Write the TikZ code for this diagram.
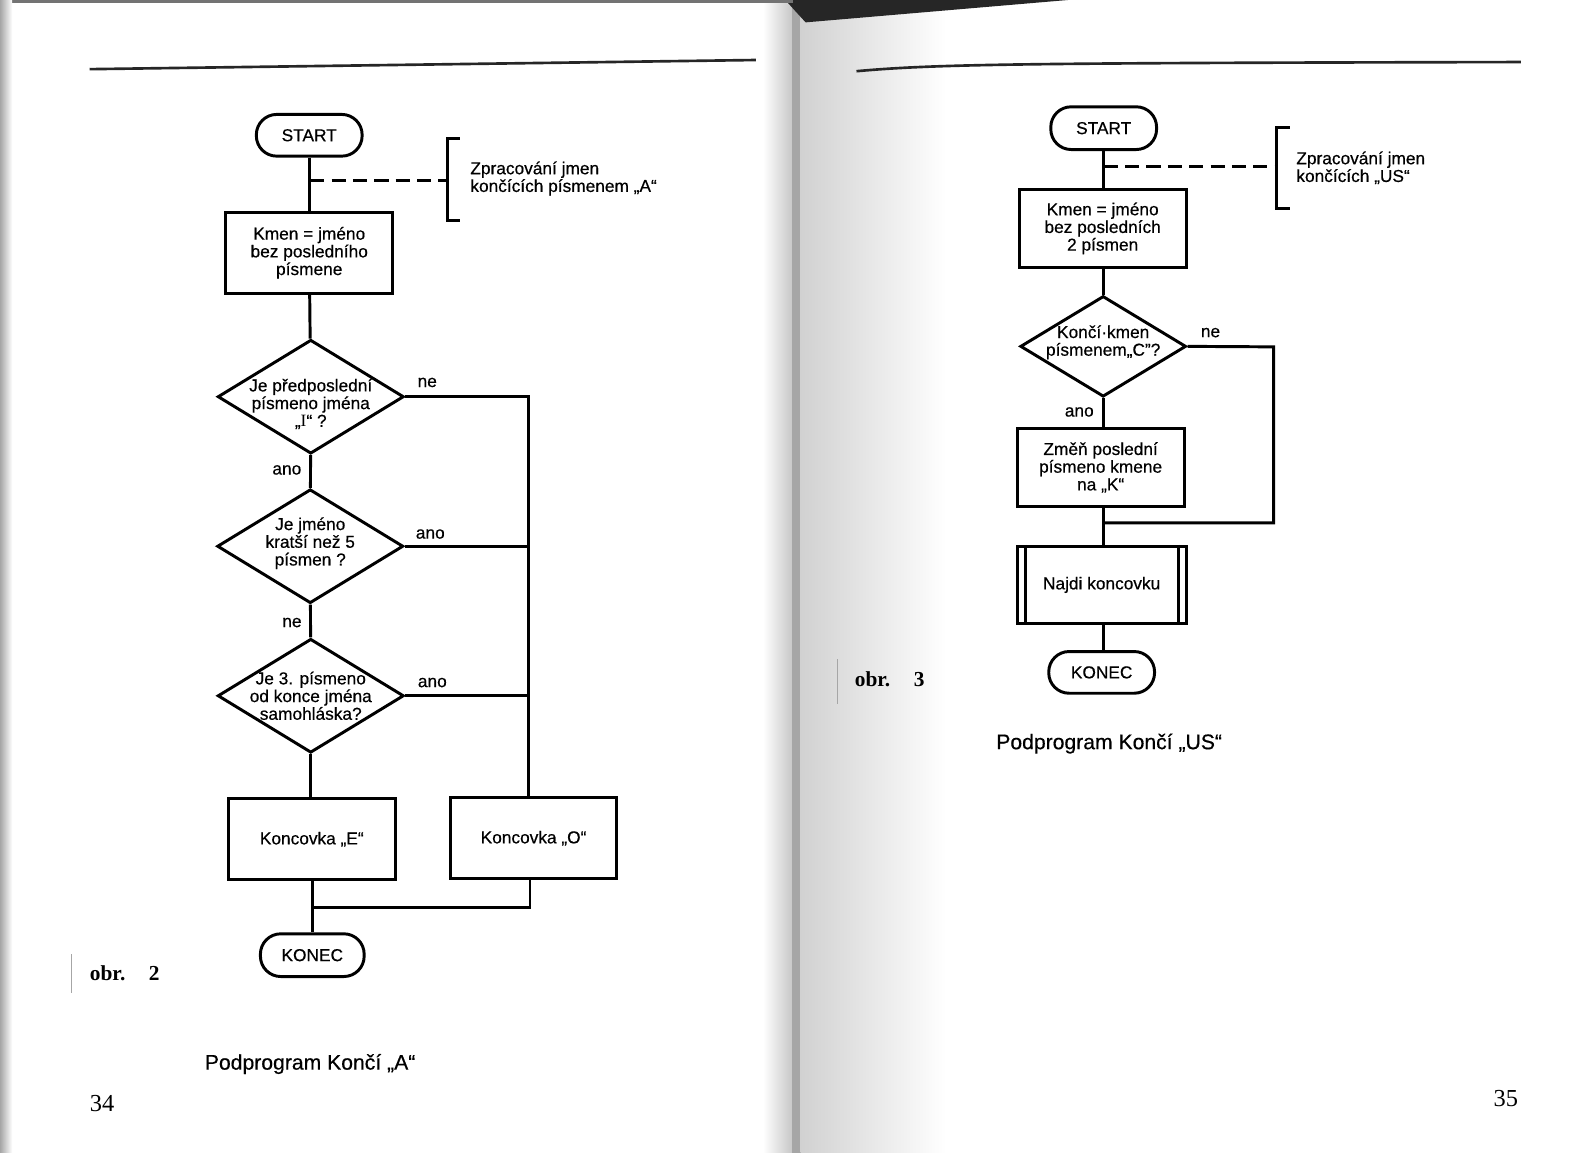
\documentclass[tikz,border=0pt]{standalone}
\usepackage{fontspec}
\setmainfont{Liberation Sans}[FakeBold=0.45]
\newfontfamily\serifbk{Liberation Serif}
\usetikzlibrary{shapes.geometric}
\begin{document}
\begin{tikzpicture}[x=0.5pt,y=-0.5pt,
  every node/.style={font=\fontsize{8.5}{8.7}\selectfont, inner sep=0pt, align=center},
  ln/.style={line width=1.45pt},
  dsh/.style={line width=1.45pt, dash pattern=on 7pt off 3.5pt},
  term/.style={draw, line width=1.45pt, rounded corners=10pt, minimum width=52pt, minimum height=20.5pt},
  proc/.style={draw, line width=1.45pt, minimum width=82pt, minimum height=40pt},
  dia/.style={draw, diamond, line width=1.45pt, minimum width=91.5pt, minimum height=56pt},
  lbl/.style={font=\fontsize{8.5}{8.7}\selectfont},
  note/.style={align=left, anchor=west},
  capt/.style={font=\fontsize{10.4}{12}\selectfont, anchor=west},
  fig/.style={font=\serifbk\bfseries\fontsize{10.5}{12}\selectfont, anchor=west},
  pnum/.style={font=\serifbk\fontsize{12}{14}\selectfont, anchor=west}
]
\useasboundingbox (0,0) rectangle (1568,1133);
% ---- page background / book edges
\fill[white] (0,0) rectangle (1568,1133);
\shade[left color=white, right color=black!22] (750,0) rectangle (779,1133);
\fill[black!35] (779,0) rectangle (787,1133);
\shade[left color=black!18, right color=white] (787,0) rectangle (930,1133);
\fill[black!85] (772,0) -- (1050,0) -- (792,22) -- (781,10) -- cycle;
\fill[black!55] (0,0) rectangle (780,3);
\shade[left color=black!35, right color=white] (0,0) rectangle (12,1133);
% margin marks
\draw[black!35, line width=0.6pt] (70,938) -- (70,976);
\draw[black!35, line width=0.6pt] (823,648) -- (823,692);
% top rules
\draw[line width=1.3pt, black!85] (88,68) -- (743,59);
\draw[line width=1.3pt, black!85] (842,70) .. controls (920,63) and (1000,62) .. (1495,61);

% ================= LEFT FLOWCHART =================
\node[term] (s1) at (304,133) {START};
\node[proc] (b1) at (304,248.5) {Kmen = jméno\\bez posledního\\písmene};
\node[dia] (d1) at (305.5,390) {};
\node (t1) at (305.5,397) {Je předposlední\\písmeno jména\\„{\serifbk I}“ ?};
\node[dia] (d2) at (305,537) {};
\node (t2) at (305,534) {Je jméno\\kratší než 5\\písmen ?};
\node[dia] (d3) at (305.5,684) {};
\node (t3) at (305.5,684) {Je 3. písmeno\\od konce jména\\samohláska?};
\node[proc] (bE) at (306.5,825) {Koncovka „E“};
\node[proc, minimum width=81.5pt] (bO) at (524.5,824) {Koncovka „O“};
\node[term, minimum width=51pt, minimum height=21pt] (k1) at (307,939) {KONEC};

\draw[ln] (s1) -- (b1);
\draw[ln] (b1) -- (d1);
\draw[ln] (d1) -- (d2);
\draw[ln] (d2) -- (d3);
\draw[ln] (d3.south) -- (d3.south |- bE.north);
\coordinate (r1) at (520,390);
\coordinate (m1) at (521,892);
\draw[ln] (d1.east) -- (r1) -- (r1 |- bO.north);
\draw[ln] (d2.east) -- (r1 |- d2.east);
\draw[ln] (d3.east) -- (r1 |- d3.east);
\draw[ln] (bE.south -| k1) -- (k1);
\draw[ln] (m1 |- bO.south) -- (m1) -- (m1 -| k1);

\node[lbl] (l1) at (420,376) {ne};
\node[lbl] (l2) at (282,462) {ano};
\node[lbl] (l3) at (423,525) {ano};
\node[lbl] (l4) at (287,612) {ne};
\node[lbl] (l5) at (425,671) {ano};

% annotation
\coordinate (a1) at (305,177);
\coordinate (a2) at (440,177);
\draw[dsh] (a1) -- (a2);
\draw[ln] (452,136) -- (440,136) -- (440,217) -- (452,217);
\node[note] (n1) at (462,175.5) {Zpracování jmen\\končících písmenem „A“};

\node[fig] (f2) at (88,957) {obr.\hspace{1.1em}2};
\node[capt] (c2) at (201,1046) {Podprogram Končí „A“};
\node[pnum] (p34) at (88,1085) {34};

% ================= RIGHT FLOWCHART =================
\node[term, minimum height=21pt] (s2) at (1085,126) {START};
\node[proc, minimum height=38.5pt] (b2) at (1084,224.5) {Kmen = jméno\\bez posledních\\2 písmen};
\node[dia, minimum width=81.5pt, minimum height=49.5pt] (d4) at (1084.5,340.5) {};
\node (t4) at (1084.5,336.5) {Končí·kmen\\písmenem„C"?};
\node[proc, minimum height=38.5pt] (b3) at (1082,459.5) {Změň poslední\\písmeno kmene\\na „K“};
\node[proc, minimum width=83pt, minimum height=38pt] (b4) at (1083,575) {Najdi koncovku};
\draw[ln] ([xshift=5pt]b4.north west) -- ([xshift=5pt]b4.south west);
\draw[ln] ([xshift=-4.5pt]b4.north east) -- ([xshift=-4.5pt]b4.south east);
\node[term, minimum height=20.5pt] (k2) at (1083,661) {KONEC};

\draw[ln] (s2) -- (s2 |- b2.north);
\draw[ln] (b2.south -| d4) -- (d4);
\draw[ln] (d4.south) -- (d4.south |- b3.north);
\coordinate (r2) at (1252,341);
\coordinate (m2) at (1252,514);
\draw[ln] (d4.east) -- (r2) -- (m2) -- (m2 -| d4);
\draw[ln] (b3.south -| d4) -- (b4.north -| d4);
\draw[ln] (b4.south -| d4) -- (k2.north -| d4);

\node[lbl] (l6) at (1190,327) {ne};
\node[lbl] (l7) at (1061,405) {ano};

\coordinate (a3) at (1085,164);
\coordinate (a4) at (1255,164);
\draw[dsh] (a3) -- (a4);
\draw[ln] (1268,125) -- (1255,125) -- (1255,205) -- (1268,205);
\node[note] (n2) at (1274,165) {Zpracování jmen\\končících „US“};

\node[fig] (f3) at (840,668) {obr.\hspace{1.1em}3};
\node[capt] (c3) at (979,731) {Podprogram Končí „US“};
\node[pnum] (p35) at (1468,1080) {35};
\end{tikzpicture}
\end{document}
